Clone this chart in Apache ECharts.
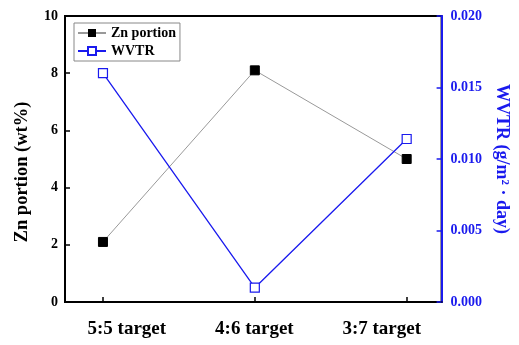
<!DOCTYPE html>
<html>
<head>
<meta charset="utf-8">
<script src="https://cdn.jsdelivr.net/npm/echarts@6/dist/echarts.min.js"></script>
<style>
  html, body { margin: 0; padding: 0; background: #fff; }
  #chart { width: 519px; height: 345px; }
</style>
</head>
<body>
<div id="chart"></div>
<script>
// Sputtering target ratios and measured results
const categories = ['5:5 target', '4:6 target', '3:7 target'];
const znPortion = [2.1, 8.1, 5.0];          // wt%
const wvtr = [0.0160, 0.0010, 0.0114];      // g/m²·day
const leftTicks = [0, 2, 4, 6, 8, 10];
const rightTicks = [0, 0.005, 0.010, 0.015, 0.020];
// category label anchors along the x scale (labels sit slightly off their ticks)
const labelAnchors = [0.157, 0.997, 1.836];

const serif = '"Liberation Serif", "Times New Roman", serif';
const blue = '#1a1aee';

const chart = echarts.init(document.getElementById('chart'));
chart.setOption({
  animation: false,
  grid: {
    left: 65, right: 76, top: 16, bottom: 43,
    show: true, borderColor: '#000', borderWidth: 2, backgroundColor: 'transparent'
  },
  legend: {
    left: 74, top: 23, orient: 'vertical',
    borderColor: '#888', borderWidth: 1, padding: [3, 4, 3, 3],
    itemWidth: 28, itemHeight: 10, itemGap: 4,
    textStyle: { fontFamily: serif, fontWeight: 'bold', fontSize: 14, color: '#000' },
    data: ['Zn portion', 'WVTR']
  },
  xAxis: {
    type: 'value',
    min: -0.25, max: 2.23,
    axisLine: { show: true, onZero: false, lineStyle: { color: '#000', width: 2 } },
    axisTick: { show: true, inside: true, length: 5, customValues: [0, 1, 2], lineStyle: { color: '#000', width: 1.5 } },
    axisLabel: {
      customValues: labelAnchors,
      formatter: v => categories[labelAnchors.indexOf(v)] || categories[Math.round(v)] || '',
      margin: 18,
      fontFamily: serif, fontWeight: 'bold', fontSize: 19, color: '#000'
    },
    splitLine: { show: false }
  },
  yAxis: [
    {
      type: 'value', position: 'left',
      min: leftTicks[0], max: leftTicks[leftTicks.length - 1], interval: 2,
      name: 'Zn portion (wt%)', nameLocation: 'middle', nameGap: 33,
      nameTextStyle: { fontFamily: serif, fontWeight: 'bold', fontSize: 18.5, color: '#000', padding: [0, 26, 0, 0] },
      axisLine: { show: true, onZero: false, lineStyle: { color: '#000', width: 2 } },
      axisTick: { show: true, inside: true, length: 5, lineStyle: { color: '#000', width: 1.5 } },
      axisLabel: { margin: 7, fontFamily: serif, fontWeight: 'bold', fontSize: 14, color: '#000' },
      splitLine: { show: false }
    },
    {
      type: 'value', position: 'right',
      min: rightTicks[0], max: rightTicks[rightTicks.length - 1], interval: 0.005,
      name: 'WVTR (g/m² · day)', nameLocation: 'middle', nameGap: 40, nameRotate: -90,
      nameTextStyle: { fontFamily: serif, fontWeight: 'bold', fontSize: 18, color: blue },
      axisLine: { show: true, onZero: false, lineStyle: { color: blue, width: 2 } },
      axisTick: { show: true, inside: true, length: 5, lineStyle: { color: blue, width: 1.5 } },
      axisLabel: {
        margin: 9, fontFamily: serif, fontWeight: 'bold', fontSize: 14, color: blue,
        formatter: v => v.toFixed(3)
      },
      splitLine: { show: false }
    }
  ],
  series: [
    {
      name: 'Zn portion', type: 'line', yAxisIndex: 0,
      data: znPortion.map((v, i) => [i, v]),
      symbol: 'rect', symbolSize: 9,
      lineStyle: { color: '#999', width: 1 },
      itemStyle: { color: '#000', borderColor: '#000' }
    },
    {
      name: 'WVTR', type: 'line', yAxisIndex: 1,
      data: wvtr.map((v, i) => [i, v]),
      symbol: 'rect', symbolSize: 9,
      lineStyle: { color: blue, width: 1.3 },
      itemStyle: { color: '#fff', borderColor: blue, borderWidth: 1.2 }
    }
  ]
});
</script>
</body>
</html>
